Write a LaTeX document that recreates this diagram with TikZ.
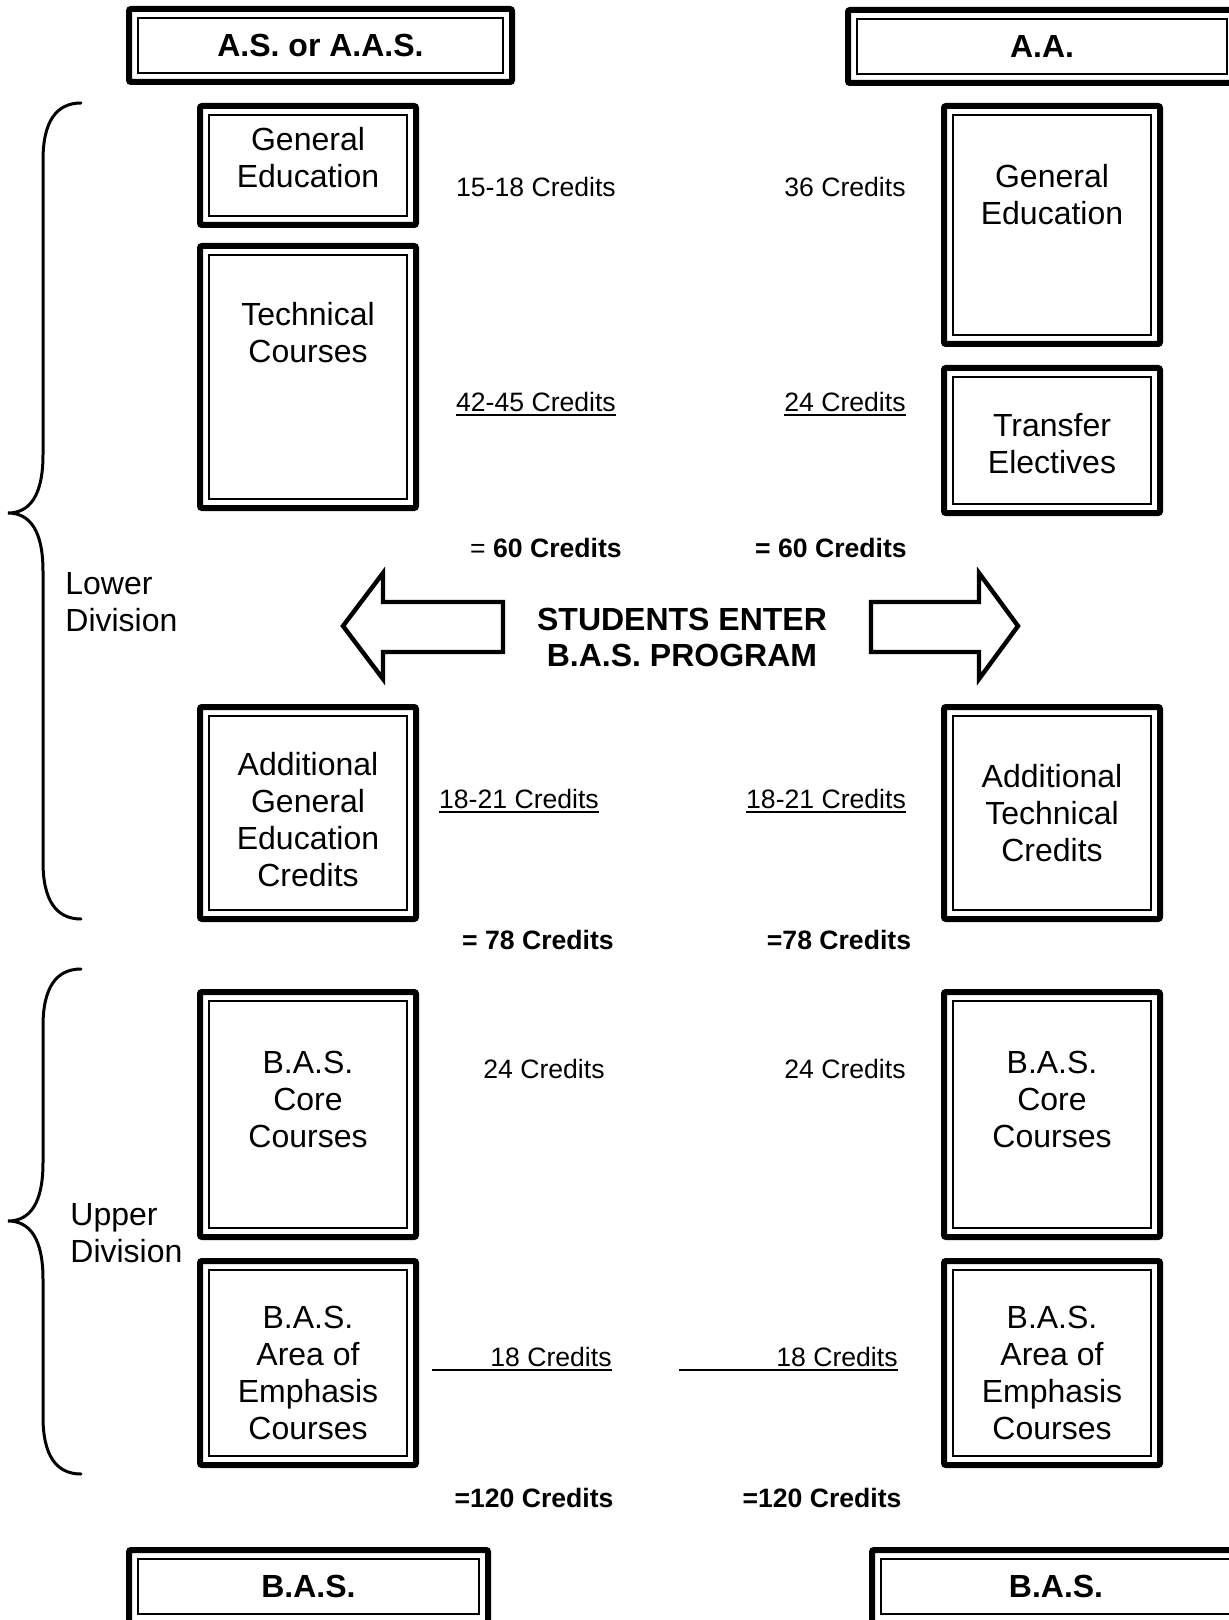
\documentclass[tikz,border=0pt]{standalone}
\usepackage{fontspec}
\setmainfont{Liberation Sans}
\usetikzlibrary{positioning}
\newcommand{\boxfont}{\fontsize{16}{18.5}\selectfont}
\newcommand{\credfont}{\fontsize{13.3}{15}\selectfont}
\newcommand{\credul}[1]{\setbox0\hbox{#1}\leavevmode\rlap{\rule[-2pt]{\wd0}{0.8pt}}\box0}

\begin{document}
\begin{tikzpicture}[x=0.5pt,y=-0.5pt,
  dbox/.style={draw,line width=3pt,inner sep=0pt,outer sep=0pt,rounded corners=1pt},
  colbox/.style={dbox,minimum width=108pt},
  hdbox/.style={dbox,minimum height=36.5pt,font=\boxfont\bfseries},
  boxtxt/.style={align=center,font=\boxfont,inner sep=0pt},
  cred/.style={font=\credfont,inner sep=0pt},
  total/.style={font=\credfont\bfseries,inner sep=0pt},
  divtxt/.style={align=left,font=\boxfont,inner sep=0pt},
  brace/.style={line width=1.5pt,line cap=round},
  blockarrow/.style={line width=2.2pt,line join=miter}]
  \useasboundingbox (0,0) rectangle (1228,1620);

  % degree headers
  \node[hdbox,minimum width=191.5pt] (hdl) at (320.5,45.5) {A.S. or A.A.S.};
  \node[hdbox,minimum width=194pt] (hdr) at (1042,46.5) {A.A.};
  \node[hdbox,minimum width=179.5pt] (basl) at (308.5,1586.5) {B.A.S.};
  \node[hdbox,minimum width=184pt] (basr) at (1056,1586.5) {B.A.S.};

  % course blocks
  \node[colbox,minimum height=59.5pt] (gel) at (308,165.5) {};
  \node[colbox,minimum height=131pt] (tec) at (308,377) {};
  \node[colbox,minimum height=119pt] (ger) at (1052,225) {};
  \node[colbox,minimum height=72.5pt] (tre) at (1052,440.5) {};
  \node[colbox,minimum height=106pt] (agl) at (308,813) {};
  \node[colbox,minimum height=106pt] (atr) at (1052,813) {};
  \node[colbox,minimum height=122.5pt] (corl) at (308,1114.5) {};
  \node[colbox,minimum height=122.5pt] (corr) at (1052,1114.5) {};
  \node[colbox,minimum height=102pt] (emphl) at (308,1363) {};
  \node[colbox,minimum height=102pt] (emphr) at (1052,1363) {};
  \foreach \b in {hdl,hdr,basl,basr,gel,tec,ger,tre,agl,atr,corl,corr,emphl,emphr}
    \draw[line width=1pt] ([shift={(4.5pt,-4.5pt)}]\b.north west) rectangle ([shift={(-4.5pt,4.5pt)}]\b.south east);

  \node[boxtxt] (gelt) at (308,158) {General\\Education};
  \node[boxtxt] (tect) at (308,333) {Technical\\Courses};
  \node[boxtxt] (gert) at (1052,195) {General\\Education};
  \node[boxtxt] (tret) at (1052,444) {Transfer\\Electives};
  \node[boxtxt] (aglt) at (308,820) {Additional\\General\\Education\\Credits};
  \node[boxtxt] (atrt) at (1052,813) {Additional\\Technical\\Credits};
  \node[boxtxt] (corlt) at (308,1099) {B.A.S.\\Core\\Courses};
  \node[boxtxt] (corrt) at (1052,1099) {B.A.S.\\Core\\Courses};
  \node[boxtxt] (emphlt) at (308,1373) {B.A.S.\\Area of\\Emphasis\\Courses};
  \node[boxtxt] (emphrt) at (1052,1373) {B.A.S.\\Area of\\Emphasis\\Courses};

  % credit counts
  \node[cred] (c1) at (536,187) {15-18 Credits};
  \node[cred] (c2) at (845,187) {36 Credits};
  \node[cred] (c3) at (536,404) {\credul{42-45 Credits}};
  \node[cred] (c4) at (845,404) {\credul{24 Credits}};
  \node[cred] (t1) at (546,548) {= \textbf{60 Credits}};
  \node[total] (t2) at (831,548) {= 60 Credits};
  \node[cred] (c5) at (519,801) {\credul{18-21 Credits}};
  \node[cred] (c6) at (826,801) {\credul{18-21 Credits}};
  \node[total] (t3) at (538,940) {= 78 Credits};
  \node[total] (t4) at (839,940) {=78 Credits};
  \node[cred] (c7) at (544,1069) {24 Credits};
  \node[cred] (c8) at (845,1069) {24 Credits};
  \node[cred,anchor=east] (c9) at (612,1359) {\credul{\makebox[90pt][r]{18 Credits}}};
  \node[cred,anchor=east] (c10) at (898,1359) {\credul{\makebox[109.5pt][r]{18 Credits}}};
  \node[total] (t5) at (534,1498) {=120 Credits};
  \node[total] (t6) at (822,1498) {=120 Credits};

  % entry arrows
  \node[boxtxt,font=\fontsize{16}{18}\selectfont\bfseries] (enter) at (682,637) {STUDENTS ENTER\\B.A.S. PROGRAM};
  \draw[blockarrow] (503,602) -- (383,602) -- (383,573) -- (343,626) -- (383,679) -- (383,652) -- (503,652) -- cycle;
  \draw[blockarrow] (871,602) -- (979,602) -- (979,573) -- (1018,626) -- (979,679) -- (979,652) -- (871,652) -- cycle;

  % division braces
  \draw[brace] (81,103) .. controls (56,103) and (43,122) .. (43,160) -- (43,455)
    .. controls (43,495) and (30,513) .. (8,513) .. controls (30,513) and (43,531) .. (43,571)
    -- (43,862) .. controls (43,900) and (56,919) .. (81,919);
  \draw[brace] (81,969) .. controls (56,969) and (43,988) .. (43,1026) -- (43,1163)
    .. controls (43,1203) and (30,1221) .. (8,1221) .. controls (30,1221) and (43,1239) .. (43,1279)
    -- (43,1417) .. controls (43,1455) and (56,1474) .. (81,1474);
  \node[divtxt,anchor=west] (lowd) at (65,602) {Lower\\Division};
  \node[divtxt,anchor=west] (uppd) at (70,1233) {Upper\\Division};
\end{tikzpicture}
\end{document}
